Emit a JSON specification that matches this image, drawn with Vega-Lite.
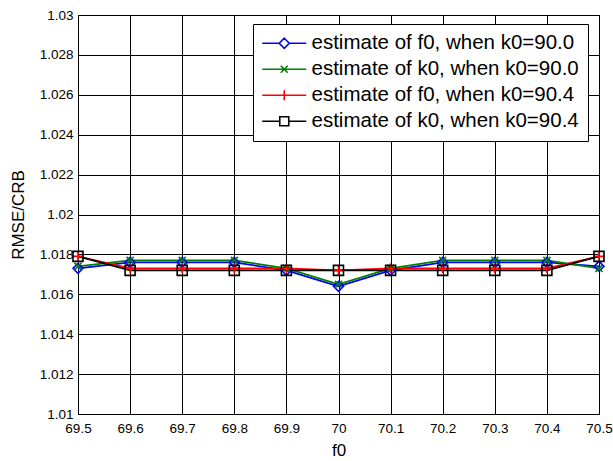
{
  "$schema": "https://vega.github.io/schema/vega-lite/v6.json",
  "width": 521,
  "height": 399,
  "autosize": {"type": "none"},
  "padding": {"left": 78, "top": 15, "right": 14, "bottom": 47},
  "background": "white",
  "config": {
    "font": "Liberation Sans",
    "view": {"stroke": "black", "strokeWidth": 1},
    "axis": {
      "grid": true, "gridColor": "#000000", "gridOpacity": 1, "gridWidth": 1,
      "domain": false, "ticks": false,
      "labelFont": "Liberation Sans", "labelFontSize": 13.5, "labelColor": "#000000",
      "titleFont": "Liberation Sans", "titleFontSize": 17, "titleFontWeight": "normal", "titleColor": "#000000"
    },
    "legend": {
      "labelFont": "Liberation Sans", "labelFontSize": 20.5, "labelColor": "#000000",
      "symbolSize": 100, "rowPadding": 5, "labelOffset": 17, "symbolOffset": 12, "labelLimit": 400,
      "strokeColor": "#000000", "fillColor": "#ffffff", "padding": 9
    }
  },
  "data": {"values": [
    {"f0": 69.5, "v": 1.0173, "series": "estimate of f0, when k0=90.0"},
    {"f0": 69.6, "v": 1.0176, "series": "estimate of f0, when k0=90.0"},
    {"f0": 69.7, "v": 1.0176, "series": "estimate of f0, when k0=90.0"},
    {"f0": 69.8, "v": 1.0176, "series": "estimate of f0, when k0=90.0"},
    {"f0": 69.9, "v": 1.0172, "series": "estimate of f0, when k0=90.0"},
    {"f0": 70.0, "v": 1.0164, "series": "estimate of f0, when k0=90.0"},
    {"f0": 70.1, "v": 1.0172, "series": "estimate of f0, when k0=90.0"},
    {"f0": 70.2, "v": 1.0176, "series": "estimate of f0, when k0=90.0"},
    {"f0": 70.3, "v": 1.0176, "series": "estimate of f0, when k0=90.0"},
    {"f0": 70.4, "v": 1.0176, "series": "estimate of f0, when k0=90.0"},
    {"f0": 70.5, "v": 1.0174, "series": "estimate of f0, when k0=90.0"},
    {"f0": 69.5, "v": 1.0174, "series": "estimate of k0, when k0=90.0"},
    {"f0": 69.6, "v": 1.0177, "series": "estimate of k0, when k0=90.0"},
    {"f0": 69.7, "v": 1.0177, "series": "estimate of k0, when k0=90.0"},
    {"f0": 69.8, "v": 1.0177, "series": "estimate of k0, when k0=90.0"},
    {"f0": 69.9, "v": 1.0173, "series": "estimate of k0, when k0=90.0"},
    {"f0": 70.0, "v": 1.0165, "series": "estimate of k0, when k0=90.0"},
    {"f0": 70.1, "v": 1.0173, "series": "estimate of k0, when k0=90.0"},
    {"f0": 70.2, "v": 1.0177, "series": "estimate of k0, when k0=90.0"},
    {"f0": 70.3, "v": 1.0177, "series": "estimate of k0, when k0=90.0"},
    {"f0": 70.4, "v": 1.0177, "series": "estimate of k0, when k0=90.0"},
    {"f0": 70.5, "v": 1.0173, "series": "estimate of k0, when k0=90.0"},
    {"f0": 69.5, "v": 1.0179, "series": "estimate of f0, when k0=90.4"},
    {"f0": 69.6, "v": 1.0173, "series": "estimate of f0, when k0=90.4"},
    {"f0": 69.7, "v": 1.0173, "series": "estimate of f0, when k0=90.4"},
    {"f0": 69.8, "v": 1.0173, "series": "estimate of f0, when k0=90.4"},
    {"f0": 69.9, "v": 1.0173, "series": "estimate of f0, when k0=90.4"},
    {"f0": 70.0, "v": 1.0172, "series": "estimate of f0, when k0=90.4"},
    {"f0": 70.1, "v": 1.0173, "series": "estimate of f0, when k0=90.4"},
    {"f0": 70.2, "v": 1.0173, "series": "estimate of f0, when k0=90.4"},
    {"f0": 70.3, "v": 1.0173, "series": "estimate of f0, when k0=90.4"},
    {"f0": 70.4, "v": 1.0173, "series": "estimate of f0, when k0=90.4"},
    {"f0": 70.5, "v": 1.0179, "series": "estimate of f0, when k0=90.4"},
    {"f0": 69.5, "v": 1.0179, "series": "estimate of k0, when k0=90.4"},
    {"f0": 69.6, "v": 1.0172, "series": "estimate of k0, when k0=90.4"},
    {"f0": 69.7, "v": 1.0172, "series": "estimate of k0, when k0=90.4"},
    {"f0": 69.8, "v": 1.0172, "series": "estimate of k0, when k0=90.4"},
    {"f0": 69.9, "v": 1.0172, "series": "estimate of k0, when k0=90.4"},
    {"f0": 70.0, "v": 1.0172, "series": "estimate of k0, when k0=90.4"},
    {"f0": 70.1, "v": 1.0172, "series": "estimate of k0, when k0=90.4"},
    {"f0": 70.2, "v": 1.0172, "series": "estimate of k0, when k0=90.4"},
    {"f0": 70.3, "v": 1.0172, "series": "estimate of k0, when k0=90.4"},
    {"f0": 70.4, "v": 1.0172, "series": "estimate of k0, when k0=90.4"},
    {"f0": 70.5, "v": 1.0179, "series": "estimate of k0, when k0=90.4"}
  ]},
  "encoding": {
    "x": {"field": "f0", "type": "quantitative", "title": "f0",
      "scale": {"domain": [69.5, 70.5], "nice": false, "zero": false},
      "axis": {"values": [69.5, 69.6, 69.7, 69.8, 69.9, 70, 70.1, 70.2, 70.3, 70.4, 70.5], "format": "~g", "labelPadding": 7, "titlePadding": 8, "labelFlush": false}},
    "y": {"field": "v", "type": "quantitative", "title": "RMSE/CRB",
      "scale": {"domain": [1.01, 1.03], "nice": false, "zero": false},
      "axis": {"values": [1.01, 1.012, 1.014, 1.016, 1.018, 1.02, 1.022, 1.024, 1.026, 1.028, 1.03], "format": "~g", "labelPadding": 5, "titlePadding": 12, "labelFlush": false}},
    "order": {"field": "f0", "type": "quantitative"}
  },
  "layer": [
    {
      "mark": {"type": "line", "strokeWidth": 1.8},
      "encoding": {
        "color": {"field": "series", "type": "nominal",
          "scale": {"domain": ["estimate of f0, when k0=90.0", "estimate of k0, when k0=90.0", "estimate of f0, when k0=90.4", "estimate of k0, when k0=90.4"],
            "range": ["#0000ff", "#008000", "#ff0000", "#000000"]},
          "legend": {
            "title": null, "orient": "none", "legendX": 175, "legendY": 9,
            "encode": {"symbols": {"update": {
              "shape": {"signal": "datum.value === 'estimate of f0, when k0=90.0' ? 'M-4.4,0L-1,0M1,0L4.4,0M0,-1L1,0L0,1L-1,0Z' : datum.value === 'estimate of k0, when k0=90.0' ? 'M-4.4,0L4.4,0M-0.7,-0.7L0.7,0.7M-0.7,0.7L0.7,-0.7' : datum.value === 'estimate of f0, when k0=90.4' ? 'M-4.4,0L4.4,0M0,-1L0,1' : 'M-4.4,0L-0.9,0M0.9,0L4.4,0M-0.9,-0.9L0.9,-0.9L0.9,0.9L-0.9,0.9Z'"},
              "fill": {"value": "transparent"},
              "strokeWidth": {"value": 1.6}
            }}}
          }}
      }
    },
    {
      "mark": {"type": "point", "filled": false, "size": 100, "strokeWidth": 1.6, "opacity": 1},
      "encoding": {
        "color": {"field": "series", "type": "nominal", "legend": null},
        "shape": {"field": "series", "type": "nominal", "legend": null,
          "scale": {"range": ["diamond", "M-1,0L1,0M0,-1L0,1", "M-0.7,-0.7L0.7,0.7M-0.7,0.7L0.7,-0.7", "square"]}}
      }
    }
  ]
}
